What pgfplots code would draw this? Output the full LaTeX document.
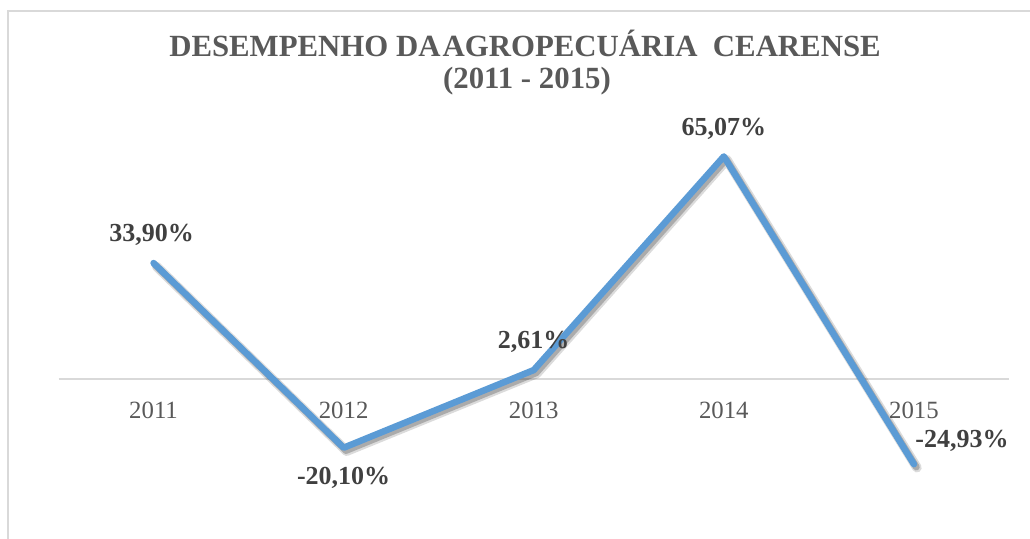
\documentclass[border=0pt]{standalone}
\usepackage{fontspec}
\setmainfont{Liberation Serif}
\usepackage{pgfplots}
\usepackage{pgfplotstable}
\pgfplotsset{compat=1.18}

\definecolor{lineblue}{HTML}{5B9BD5}
\definecolor{titlegray}{HTML}{595959}
\definecolor{labelgray}{HTML}{404040}
\definecolor{rulegray}{HTML}{D9D9D9}

% x = year index, dx/dy = label offset in pt
\pgfplotstableread{
x y      dx  dy    lab
0 33.90  -1  14    33,90
1 -20.10  0  -15   -20,10
2 2.61    0  14    2,61
3 65.07   0  14    65,07
4 -24.93  24 11.5  -24,93
}\agro

\begin{document}
\begin{tikzpicture}
\path[use as bounding box] (0,0) rectangle (515pt,269.5pt);
\draw[rulegray, line width=1pt] (4pt,0) -- (4pt,264pt) -- (515pt,264pt);

\node[anchor=base, text=titlegray, font=\fontsize{15.4}{18}\selectfont\bfseries]
  at (262.5pt,241pt) {DESEMPENHO DA\hspace{-0.18em} AGROPECUÁRIA\ \ CEARENSE};
\node[anchor=base, text=titlegray, font=\fontsize{15.4}{18}\selectfont\bfseries]
  at (263.5pt,225pt) {(2011 - 2015)};

\begin{axis}[
  at={(29.25pt,11.6pt)}, anchor=south west,
  scale only axis,
  width=475.25pt, height=205.2pt,
  xmin=-0.5, xmax=4.5,
  ymin=-40, ymax=80,
  axis x line=middle,
  axis y line=none,
  x axis line style={-, draw=rulegray, line width=0.9pt},
  hide obscured x ticks=false,
  xtick={0,1,2,3,4},
  xticklabels={2011,2012,2013,2014,2015},
  major tick length=0pt,
  ytick=\empty,
  xticklabel style={anchor=center, yshift=-15.5pt, text=titlegray,
    font=\fontsize{12.4}{14}\selectfont},
  clip=false,
]
% soft shadow under the line
\addplot[draw=black, opacity=0.14, line width=4.8pt, line join=round, line cap=round,
  xshift=1.5pt, yshift=-1.7pt, forget plot] table[x=x, y=y] {\agro};
\addplot[draw=black, opacity=0.22, line width=3.4pt, line join=round, line cap=round,
  xshift=1.2pt, yshift=-1.4pt, forget plot] table[x=x, y=y] {\agro};
% main series with value labels
\addplot[draw=lineblue, line width=3.25pt, line join=round, line cap=round, mark=none,
  point meta=explicit symbolic,
  nodes near coords={\pgfplotspointmeta\%},
  visualization depends on={\thisrow{dx} \as \dx},
  visualization depends on={\thisrow{dy} \as \dy},
  every node near coord/.append style={anchor=center, xshift=\dx pt, yshift=\dy pt,
    text=labelgray, font=\fontsize{13}{15}\selectfont\bfseries},
] table[x=x, y=y, meta=lab] {\agro};
\end{axis}
\end{tikzpicture}
\end{document}
